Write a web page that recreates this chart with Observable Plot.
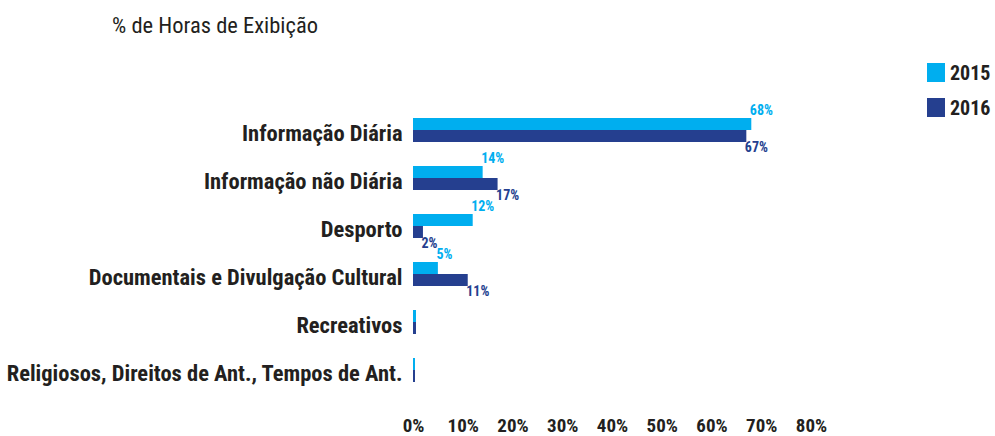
<!DOCTYPE html>
<html><head><meta charset="utf-8">
<script src="https://cdn.jsdelivr.net/npm/d3@7"></script>
<script src="https://cdn.jsdelivr.net/npm/@observablehq/plot@0.6"></script>
<style>
body{margin:0;background:#fff;font-family:"Roboto Condensed","Liberation Sans Narrow","DejaVu Sans Condensed",Roboto,sans-serif;color:#231f20;}
#wrap{position:relative;width:995px;height:436px;overflow:hidden;}
#title{position:absolute;left:112px;top:10px;font-size:22.5px;line-height:30px;white-space:nowrap;}
#legend{position:absolute;left:927px;top:55px;}
.item{display:flex;align-items:center;height:35px;font-weight:bold;font-size:20px;}
.sw{width:18px;height:19px;margin-right:5px;}
#chart{position:absolute;left:0;top:0;}
</style></head>
<body>
<div id="wrap"><div id="chart"></div><div id="title"></div><div id="legend"></div></div>
<script>
const title = "% de Horas de Exibição";
const categories = ["Informação Diária","Informação não Diária","Desporto","Documentais e Divulgação Cultural","Recreativos","Religiosos, Direitos de Ant., Tempos de Ant."];
const years = ["2015","2016"];
const values2015 = [68,14,12,5,0.6,0.4];
const values2016 = [67,17,2,11,0.6,0.4];
const labels2015 = ["68%","14%","12%","5%","",""];
const labels2016 = ["67%","17%","2%","11%","",""];
const xTicks = [0,10,20,30,40,50,60,70,80];
const colors = ["#00aeef","#253f8f"];
const font = '"Roboto Condensed","Liberation Sans Narrow","DejaVu Sans Condensed",Roboto,sans-serif';

const data = categories.flatMap((c,i)=>[
  {cat:c,year:years[0],value:values2015[i],label:labels2015[i]},
  {cat:c,year:years[1],value:values2016[i],label:labels2016[i]}
]);

document.getElementById("title").textContent = title;
const leg = document.getElementById("legend");
years.forEach((y,i)=>{
  const it=document.createElement("div");it.className="item";
  const sw=document.createElement("div");sw.className="sw";sw.style.background=colors[i];
  const t=document.createElement("span");t.textContent=y;
  it.appendChild(sw);it.appendChild(t);leg.appendChild(it);
});

const chart = Plot.plot({
  width:995, height:436,
  marginTop:106, marginBottom:42, marginLeft:413, marginRight:184,
  style:{fontFamily:font, background:"transparent", color:"#231f20"},
  x:{domain:[0,80], label:null},
  fy:{domain:categories, padding:0, label:null},
  y:{domain:years, paddingInner:0, paddingOuter:1, axis:null},
  color:{domain:years, range:colors},
  marks:[
    Plot.barX(data,{fy:"cat", y:"year", x:"value", fill:"year"}),
    Plot.text(data.filter(d=>d.year===years[0] && d.label),{fy:"cat", y:"year", x:"value", text:"label", textAnchor:"start", dx:-2, dy:-14, fill:colors[0], fontWeight:"bold", fontSize:14}),
    Plot.text(data.filter(d=>d.year===years[1] && d.label),{fy:"cat", y:"year", x:"value", text:"label", textAnchor:"start", dx:-2, dy:11, fill:colors[1], fontWeight:"bold", fontSize:14}),
    Plot.axisX({ticks:xTicks, tickFormat:d=>d+"%", tickSize:0, tickPadding:24, fontSize:19, fontWeight:"bold", label:null}),
    Plot.axisFy({anchor:"left", tickSize:0, tickPadding:11, fontSize:22.5, fontWeight:"bold", dy:3, label:null})
  ]
});
document.getElementById("chart").appendChild(chart);
</script>
</body></html>
